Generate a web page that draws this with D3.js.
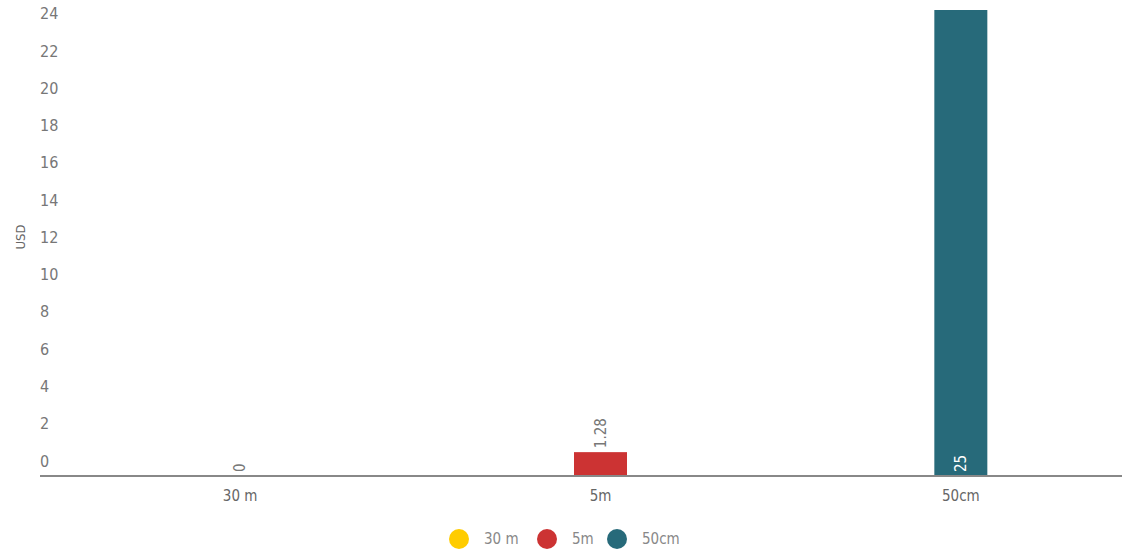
<!DOCTYPE html>
<meta charset="utf-8">
<script src="https://d3js.org/d3.v7.min.js"></script>
<style>
  body { margin: 0; background: #fff; }
  text { font-family: "DejaVu Sans", sans-serif; font-stretch: condensed; }
</style>
<svg width="1130" height="551"></svg>
<script>

    const categories = ["30 m", "5m", "50cm"];
    const values = [0, 1.28, 25];
    const colors = ["#ffcc00", "#cc3333", "#276a7a"];
    const yTicks = [0, 2, 4, 6, 8, 10, 12, 14, 16, 18, 20, 22, 24];

    const svg = d3.select('svg')

    const x = d3.scaleBand()
        .domain(categories)
        .range([60, 1141])

    const y = d3.scaleLinear()
        .domain([0, 25])
        .range([476, 10])

    const barWidth = 53

    // y labels sit a bit above their value, no grid lines
    svg.append('g')
        .selectAll('text')
        .data(yTicks)
        .enter().append('text')
        .attr('x', 40)
        .attr('y', d => y(d) - 15)
        .attr('dy', '0.35em')
        .attr('fill', '#777')
        .style('font-size', '16px')
        .text(d => d)

    svg.append('text')
        .attr('transform', 'translate(25,' + 237 + ') rotate(-90)')
        .attr('text-anchor', 'middle')
        .attr('fill', '#666')
        .style('font-size', '13px')
        .text('USD')

    svg.selectAll('rect.bar')
        .data(values)
        .enter().append('rect')
        .attr('class', 'bar')
        .attr('x', (d, i) => x(categories[i]) + x.bandwidth() / 2 - barWidth / 2)
        .attr('y', d => y(d))
        .attr('width', barWidth)
        .attr('height', d => y(0) - y(d))
        .attr('fill', (d, i) => colors[i])

    // x axis line spans the plot, labels from the band scale
    svg.append('line')
        .attr('x1', 40).attr('x2', 1122)
        .attr('y1', y(0)).attr('y2', y(0))
        .attr('stroke', '#888').attr('stroke-width', 2)

    const xAxis = d3.axisBottom(x).tickSize(0).tickPadding(14)
    const gx = svg.append('g')
        .attr('transform', 'translate(0,' + y(0) + ')')
        .call(xAxis)
    gx.select('.domain').remove()
    gx.selectAll('text').attr('fill', '#666').style('font-size', '15px')
        .style('font-family', '"DejaVu Sans", sans-serif')
        .style('font-stretch', 'condensed')

    // value labels, rotated
    svg.selectAll('text.value')
        .data(values)
        .enter().append('text')
        .attr('class', 'value')
        .attr('transform', (d, i) => {
            const cx = x(categories[i]) + x.bandwidth() / 2
            const inside = (y(0) - y(d)) > 40
            const yy = inside ? y(0) - 4 : y(d) - 4
            return 'translate(' + cx + ',' + yy + ') rotate(-90)'
        })
        .attr('dy', '0.35em')
        .attr('text-anchor', 'start')
        .attr('fill', (d, i) => (y(0) - y(d)) > 40 ? '#fff' : '#777')
        .style('font-size', '15px')
        .text(d => d)

    // legend
    const legendX = [459, 547, 617]
    const legend = svg.append('g')
    legend.selectAll('circle')
        .data(categories)
        .enter().append('circle')
        .attr('cx', (d, i) => legendX[i])
        .attr('cy', 539)
        .attr('r', 10)
        .attr('fill', (d, i) => colors[i])
    legend.selectAll('text')
        .data(categories)
        .enter().append('text')
        .attr('x', (d, i) => legendX[i] + 25)
        .attr('y', 539)
        .attr('dy', '0.35em')
        .attr('fill', '#888')
        .style('font-size', '15px')
        .text(d => d)

</script>
